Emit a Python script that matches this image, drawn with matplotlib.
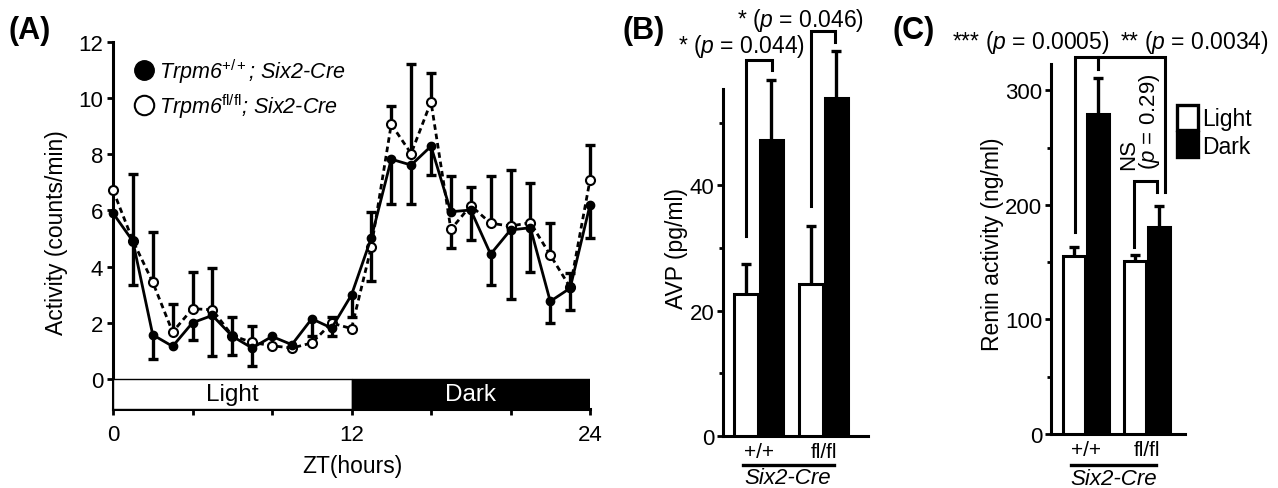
import numpy as np
import matplotlib.pyplot as plt
from matplotlib.patches import Rectangle, Patch
from matplotlib.lines import Line2D

plt.rcParams['font.family'] = ['Liberation Sans', 'DejaVu Sans']
plt.rcParams['mathtext.fontset'] = 'custom'
plt.rcParams['mathtext.rm'] = 'Liberation Sans'
plt.rcParams['mathtext.it'] = 'Liberation Sans:italic'
plt.rcParams['mathtext.bf'] = 'Liberation Sans:bold'
plt.rcParams['font.size'] = 16

# (A) locomotor activity, one point per hour
zt = np.arange(25)
wt_mean = np.array([5.9, 4.9, 1.57, 1.16, 2.0, 2.26, 1.52, 1.1, 1.51, 1.22, 2.14, 1.81, 2.99,
                    5.03, 7.82, 7.61, 8.28, 5.95, 6.01, 4.44, 5.30, 5.38, 2.76, 3.23, 6.19])
wt_err_lo = np.array([0, 1.57, 0.85, 0, 0.6, 1.46, 0.68, 0.65, 0, 0, 0.62, 0.3, 0.77,
                      0, 1.61, 1.40, 1.03, 0, 1.06, 1.09, 2.45, 1.59, 0.77, 0.77, 1.18])
wt_err_hi = np.array([0, 0, 0, 0, 0, 0, 0, 0, 0, 0, 0, 0, 0,
                      0.92, 0, 0, 0, 1.27, 0, 0, 0, 0, 0, 0, 0])
fl_mean = np.array([6.72, 4.92, 3.44, 1.67, 2.50, 2.46, 1.54, 1.30, 1.18, 1.10, 1.28, 1.99, 1.79,
                    4.71, 9.06, 8.02, 9.86, 5.32, 6.17, 5.54, 5.44, 5.56, 4.41, 3.26, 7.08])
fl_err_lo = np.array([0, 0, 0, 0, 0, 0, 0, 0, 0, 0, 0, 0, 0,
                      1.24, 0, 0, 0, 0.67, 0, 0, 0, 0, 0, 0, 0])
fl_err_hi = np.array([0, 2.36, 1.78, 0.99, 1.29, 1.48, 0.65, 0.57, 0, 0, 0, 0.23, 0,
                      0, 0.64, 3.17, 1.02, 0, 0.65, 1.69, 2.01, 1.42, 1.13, 0.5, 1.26])

# (B) AVP and (C) renin activity
genotypes = ['+/+', 'fl/fl']
avp_light = [22.7, 24.3]
avp_light_err = [4.7, 9.3]
avp_dark = [47.3, 54.0]
avp_dark_err = [9.6, 7.5]
renin_light = [155.7, 151.4]
renin_light_err = [7.3, 4.9]
renin_dark = [279.5, 181.0]
renin_dark_err = [31.5, 18.4]

W, H = 1278, 489
fig = plt.figure(figsize=(W / 100, H / 100), dpi=100)


def px(x, y):
    return x / W, 1 - y / H


def one_sided(ax, x, y, lo, hi, lw=2.4, cap=7.5):
    x = np.asarray(x, float)
    y = np.asarray(y, float)
    lo = np.asarray(lo, float)
    hi = np.asarray(hi, float)
    for err, sign in ((hi, 1), (lo, -1)):
        m = err > 0
        end = y[m] + sign * err[m]
        ax.vlines(x[m], y[m], end, color='k', lw=lw, zorder=2, clip_on=False)
        ax.plot(x[m], end, ls='none', marker='_', ms=cap, mew=lw, color='k',
                zorder=2, clip_on=False)


def style_axis(ax):
    for s in ('top', 'right'):
        ax.spines[s].set_visible(False)
    for s in ('left', 'bottom'):
        ax.spines[s].set_linewidth(2.2)
    ax.tick_params(which='both', direction='out', width=2, labelsize=16)


# ---------------- panel A ----------------
axA = fig.add_axes([113 / W, 1 - 410 / H, 477 / W, (410 - 42.7) / H])
style_axis(axA)
one_sided(axA, zt, wt_mean, wt_err_lo, wt_err_hi)
one_sided(axA, zt, fl_mean, fl_err_lo, fl_err_hi)
axA.plot(zt, fl_mean, color='k', lw=2, ls=(0, (2, 1.4)), marker='o', ms=6.5,
         mfc='white', mec='k', mew=1.5, zorder=4, clip_on=False)
axA.plot(zt, wt_mean, color='k', lw=2, marker='o', ms=6, mfc='k', mec='k',
         zorder=5, clip_on=False)

bar_h = 1.07
axA.add_patch(Rectangle((0, -bar_h), 12, bar_h, fc='white', ec='k', lw=1, zorder=3))
axA.add_patch(Rectangle((12, -bar_h), 12, bar_h, fc='k', ec='k', lw=1, zorder=3))
axA.text(6, -bar_h / 2, 'Light', ha='center', va='center', fontsize=17.5, zorder=6)
axA.text(18, -bar_h / 2, 'Dark', ha='center', va='center', fontsize=17.5, color='white', zorder=6)

axA.set_xlim(0, 24)
axA.set_ylim(-bar_h, 12)
axA.set_yticks(range(0, 13, 2))
axA.set_xticks([0, 12, 24])
axA.set_xticks([4, 8, 16, 20], minor=True)
axA.tick_params(axis='y', length=4, pad=3)
axA.tick_params(axis='x', which='both', length=4, pad=7)

handles = [Line2D([], [], ls='none', marker='o', ms=14, mfc='k', mec='k'),
           Line2D([], [], ls='none', marker='o', ms=14, mfc='white', mec='k', mew=1.5)]
labels = [r'Trpm6$^{+/+}$; Six2-Cre', r'Trpm6$^{\mathrm{fl/fl}}$; Six2-Cre']
axA.legend(handles, labels, loc='upper left', bbox_to_anchor=px(134, 57),
           bbox_transform=fig.transFigure, frameon=False, handlelength=0.95,
           handletextpad=0.2, labelspacing=0.3, borderpad=0, borderaxespad=0,
           prop={'style': 'italic', 'size': 15.5})

fig.text(*px(57, 233), 'Activity (counts/min)', rotation=90, ha='center', va='center', fontsize=16.5)
fig.text(*px(352, 467), 'ZT(hours)', ha='center', va='center', fontsize=16.5)


# ---------------- panels B and C ----------------
def bar_panel(ax, light, light_err, dark, dark_err, xlim, ylim, major, minor):
    style_axis(ax)
    x = np.arange(len(genotypes))
    ax.bar(x - 0.195, light, width=0.36, color='white', edgecolor='k', lw=2.2, zorder=3)
    ax.bar(x + 0.195, dark, width=0.36, color='k', edgecolor='k', lw=2.2, zorder=3)
    one_sided(ax, x - 0.195, light, [0, 0], light_err)
    one_sided(ax, x + 0.195, dark, [0, 0], dark_err)
    ax.set_xlim(*xlim)
    ax.set_ylim(*ylim)
    ax.set_yticks(major)
    ax.set_yticks(minor, minor=True)
    ax.tick_params(axis='y', which='major', length=4, pad=2)
    ax.tick_params(axis='y', which='minor', length=3)
    ax.set_xticks(x)
    ax.set_xticklabels(genotypes, fontsize=15)
    ax.tick_params(axis='x', length=0, pad=4)
    tr = ax.get_xaxis_transform()
    ax.plot([-0.24, 1.15], [-0.084, -0.084], color='k', lw=2.4, transform=tr, clip_on=False)
    ax.text(0.45, -0.12, 'Six2-Cre', style='italic', ha='center', va='center',
            fontsize=16, transform=tr)


def bracket(ax, x1, y1, x2, y2, top):
    ax.plot([x1, x1, x2, x2], [y1, top, top, y2], color='k', lw=2.2,
            clip_on=False, solid_joinstyle='miter', zorder=4)


axB = fig.add_axes([723 / W, 1 - 437 / H, 145 / W, 347 / H])
bar_panel(axB, avp_light, avp_light_err, avp_dark, avp_dark_err,
          (-0.55, 1.68), (0, 55.4), [0, 20, 40], [10, 30, 50])
bracket(axB, -0.19, 32, 0.2, 58.4, 60.1)
bracket(axB, 0.80, 36.7, 1.18, 62.9, 64.7)
fig.text(*px(742, 47), r'* ($p$ = 0.044)', ha='center', va='center', fontsize=16.5)
fig.text(*px(801, 21), r'* ($p$ = 0.046)', ha='center', va='center', fontsize=16.5)
fig.text(*px(677, 249), 'AVP (pg/ml)', rotation=90, ha='center', va='center', fontsize=16.5)

axC = fig.add_axes([1050.7 / W, 1 - 435 / H, 134.3 / W, 370 / H])
bar_panel(axC, renin_light, renin_light_err, renin_dark, renin_dark_err,
          (-0.58, 1.62), (0, 323), [0, 100, 200, 300], [50, 150, 250])
bracket(axC, -0.18, 176, 0.197, 318.8, 329)
bracket(axC, 0.197, 318.8, 1.3, 211.4, 329)
bracket(axC, 0.787, 163.3, 1.16, 211.4, 221.2)
fig.text(*px(1031, 43), r'*** ($p$ = 0.0005)', ha='center', va='center', fontsize=16.5)
fig.text(*px(1194, 43), r'** ($p$ = 0.0034)', ha='center', va='center', fontsize=16.5)
fig.text(*px(1140, 170), 'NS\n($p$ = 0.29)', rotation=90, ha='center', va='bottom',
         multialignment='left', fontsize=16, linespacing=0.9)
fig.text(*px(992, 244), 'Renin activity (ng/ml)', rotation=90, ha='center', va='center', fontsize=16.5)
axC.legend([Patch(fc='white', ec='k', lw=2.4), Patch(fc='k', ec='k', lw=2.4)],
           ['Light', 'Dark'], loc='upper left', bbox_to_anchor=px(1177, 106),
           bbox_transform=fig.transFigure, frameon=False, handlelength=0.9,
           handleheight=1.3, handletextpad=0.2, labelspacing=0.1, borderpad=0,
           borderaxespad=0, fontsize=16.5)

for lab, xx in (('(A)', 8), ('(B)', 622), ('(C)', 893)):
    fig.text(*px(xx, 31), lab, fontsize=22, fontweight='bold', ha='left', va='center')

fig.savefig('out.png', dpi=100)
